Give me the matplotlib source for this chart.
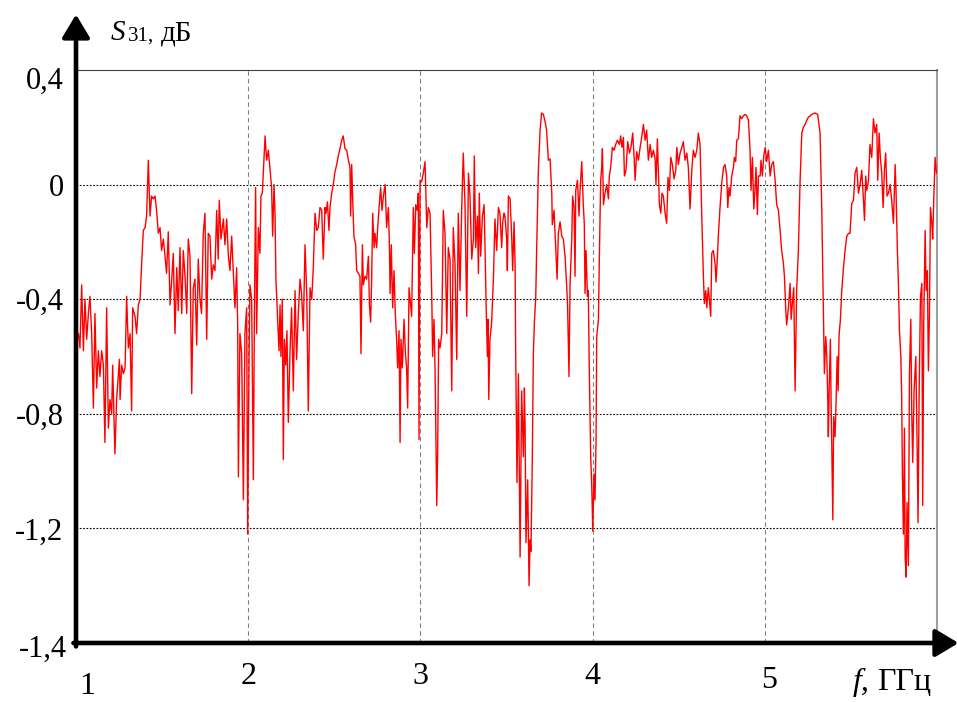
import matplotlib.pyplot as plt
from matplotlib import transforms

plt.rcParams['font.family'] = ['Liberation Serif', 'DejaVu Serif']

# frequency, GHz
freq = [
    1.000, 1.004, 1.014, 1.023, 1.033, 1.043, 1.052, 1.062, 1.072, 1.081, 1.091, 1.101, 1.110, 1.120,
    1.130, 1.139, 1.149, 1.159, 1.168, 1.178, 1.188, 1.197, 1.207, 1.213, 1.226, 1.236, 1.252, 1.256,
    1.265, 1.275, 1.285, 1.294, 1.304, 1.314, 1.323, 1.329, 1.343, 1.352, 1.362, 1.372, 1.381, 1.391,
    1.401, 1.410, 1.420, 1.430, 1.439, 1.449, 1.459, 1.468, 1.478, 1.488, 1.497, 1.507, 1.517, 1.526,
    1.536, 1.546, 1.556, 1.565, 1.575, 1.585, 1.594, 1.604, 1.614, 1.623, 1.633, 1.643, 1.652, 1.662,
    1.672, 1.681, 1.691, 1.701, 1.710, 1.720, 1.729, 1.739, 1.749, 1.759, 1.768, 1.778, 1.788, 1.797,
    1.807, 1.817, 1.826, 1.832, 1.842, 1.856, 1.865, 1.875, 1.885, 1.894, 1.904, 1.914, 1.923, 1.933,
    1.939, 1.943, 1.952, 1.962, 1.972, 1.981, 1.991, 1.997, 2.005, 2.010, 2.020, 2.030, 2.036, 2.043,
    2.049, 2.059, 2.068, 2.074, 2.082, 2.092, 2.098, 2.107, 2.117, 2.127, 2.136, 2.142, 2.150, 2.156,
    2.161, 2.171, 2.179, 2.185, 2.190, 2.198, 2.204, 2.210, 2.218, 2.225, 2.233, 2.243, 2.252, 2.262,
    2.272, 2.281, 2.291, 2.301, 2.310, 2.320, 2.330, 2.340, 2.349, 2.359, 2.369, 2.378, 2.388, 2.398,
    2.407, 2.417, 2.427, 2.436, 2.446, 2.452, 2.460, 2.469, 2.475, 2.485, 2.494, 2.504, 2.514, 2.523,
    2.533, 2.543, 2.552, 2.562, 2.572, 2.582, 2.591, 2.595, 2.601, 2.607, 2.614, 2.624, 2.630, 2.640,
    2.649, 2.655, 2.663, 2.669, 2.678, 2.688, 2.698, 2.704, 2.711, 2.717, 2.723, 2.731, 2.736, 2.746,
    2.752, 2.760, 2.769, 2.777, 2.785, 2.795, 2.804, 2.814, 2.820, 2.824, 2.831, 2.839, 2.847, 2.855,
    2.862, 2.868, 2.876, 2.882, 2.887, 2.895, 2.905, 2.913, 2.920, 2.926, 2.934, 2.940, 2.949, 2.959,
    2.965, 2.973, 2.982, 2.988, 2.992, 2.998, 3.007, 3.017, 3.027, 3.037, 3.046, 3.056, 3.066, 3.071,
    3.079, 3.085, 3.095, 3.100, 3.106, 3.114, 3.124, 3.133, 3.143, 3.153, 3.162, 3.172, 3.182, 3.191,
    3.201, 3.211, 3.220, 3.230, 3.240, 3.249, 3.259, 3.269, 3.279, 3.288, 3.298, 3.308, 3.313, 3.321,
    3.331, 3.337, 3.342, 3.350, 3.360, 3.370, 3.375, 3.381, 3.389, 3.393, 3.397, 3.404, 3.414, 3.424,
    3.433, 3.443, 3.453, 3.462, 3.472, 3.478, 3.486, 3.491, 3.501, 3.505, 3.511, 3.521, 3.530, 3.536,
    3.544, 3.550, 3.553, 3.561, 3.569, 3.579, 3.588, 3.598, 3.604, 3.608, 3.613, 3.623, 3.631, 3.637,
    3.642, 3.650, 3.656, 3.662, 3.670, 3.675, 3.685, 3.695, 3.704, 3.714, 3.724, 3.733, 3.743, 3.753,
    3.763, 3.766, 3.776, 3.786, 3.794, 3.801, 3.811, 3.821, 3.830, 3.840, 3.850, 3.855, 3.863, 3.869,
    3.879, 3.884, 3.892, 3.898, 3.902, 3.912, 3.921, 3.927, 3.937, 3.946, 3.952, 3.956, 3.962, 3.970,
    3.975, 3.981, 3.989, 3.995, 4.001, 4.008, 4.014, 4.020, 4.024, 4.034, 4.039, 4.047, 4.053, 4.057,
    4.063, 4.072, 4.082, 4.092, 4.097, 4.105, 4.115, 4.125, 4.134, 4.144, 4.156, 4.163, 4.171, 4.179,
    4.185, 4.194, 4.204, 4.214, 4.223, 4.233, 4.241, 4.247, 4.256, 4.266, 4.276, 4.285, 4.295, 4.305,
    4.314, 4.324, 4.334, 4.343, 4.353, 4.363, 4.368, 4.376, 4.382, 4.388, 4.396, 4.403, 4.411, 4.421,
    4.430, 4.438, 4.446, 4.454, 4.463, 4.473, 4.483, 4.489, 4.498, 4.508, 4.518, 4.527, 4.537, 4.547,
    4.556, 4.566, 4.576, 4.585, 4.595, 4.605, 4.614, 4.624, 4.634, 4.643, 4.649, 4.657, 4.663, 4.672,
    4.678, 4.686, 4.692, 4.701, 4.711, 4.717, 4.725, 4.730, 4.740, 4.750, 4.760, 4.769, 4.779, 4.785,
    4.792, 4.798, 4.808, 4.818, 4.823, 4.831, 4.837, 4.847, 4.856, 4.866, 4.876, 4.885, 4.895, 4.905,
    4.914, 4.920, 4.928, 4.936, 4.943, 4.949, 4.957, 4.963, 4.973, 4.978, 4.986, 4.994, 5.002, 5.011,
    5.021, 5.031, 5.040, 5.050, 5.060, 5.069, 5.079, 5.089, 5.098, 5.108, 5.114, 5.122, 5.127, 5.137,
    5.147, 5.153, 5.160, 5.168, 5.176, 5.185, 5.195, 5.205, 5.215, 5.224, 5.234, 5.244, 5.253, 5.263,
    5.273, 5.292, 5.307, 5.321, 5.331, 5.340, 5.346, 5.354, 5.360, 5.366, 5.369, 5.375, 5.381, 5.385,
    5.389, 5.395, 5.400, 5.408, 5.414, 5.420, 5.426, 5.431, 5.439, 5.447, 5.457, 5.466, 5.476, 5.486,
    5.495, 5.505, 5.515, 5.524, 5.534, 5.544, 5.553, 5.563, 5.573, 5.579, 5.586, 5.592, 5.602, 5.611,
    5.621, 5.631, 5.640, 5.650, 5.656, 5.664, 5.671, 5.679, 5.687, 5.695, 5.702, 5.710, 5.718, 5.728,
    5.737, 5.747, 5.757, 5.762, 5.770, 5.776, 5.782, 5.790, 5.795, 5.799, 5.805, 5.811, 5.815, 5.821,
    5.826, 5.834, 5.840, 5.848, 5.853, 5.859, 5.867, 5.877, 5.884, 5.890, 5.896, 5.904, 5.912, 5.917,
    5.923, 5.931, 5.937, 5.944, 5.950, 5.956, 5.962, 5.970, 5.975, 5.981, 5.989, 5.997,
]

# S31, dB
s31 = [
    -0.66, -0.55, -0.52, -0.57, -0.35, -0.58, -0.40, -0.54, -0.45, -0.39, -0.52, -0.78, -0.45, -0.71,
    -0.58, -0.67, -0.58, -0.63, -0.90, -0.43, -0.85, -0.75, -0.80, -0.63, -0.94, -0.75, -0.61, -0.75,
    -0.63, -0.66, -0.64, -0.39, -0.57, -0.52, -0.79, -0.43, -0.46, -0.52, -0.42, -0.40, -0.28, -0.16,
    -0.15, -0.11, 0.085, -0.11, -0.04, -0.05, -0.04, -0.09, -0.17, -0.15, -0.23, -0.19, -0.25, -0.31,
    -0.165, -0.42, -0.33, -0.24, -0.52, -0.29, -0.44, -0.22, -0.45, -0.23, -0.32, -0.45, -0.19, -0.25,
    -0.73, -0.36, -0.33, -0.56, -0.26, -0.40, -0.45, -0.17, -0.10, -0.54, -0.17, -0.18, -0.33, -0.28,
    -0.30, -0.09, -0.26, -0.055, -0.19, -0.12, -0.21, -0.12, -0.25, -0.30, -0.18, -0.31, -0.43, -0.29,
    -0.50, -1.02, -0.52, -0.59, -1.10, -0.52, -0.43, -1.22, -0.60, -0.35, -0.40, -1.03, -0.45, -0.01,
    -0.52, -0.15, -0.24, -0.04, -0.03, 0.10, 0.17, 0.085, 0.12, 0.05, -0.01, -0.18, 0.00, -0.11,
    -0.33, -0.47, -0.58, -0.42, -0.60, -0.40, -0.96, -0.54, -0.63, -0.51, -0.83, -0.58, -0.43, -0.72,
    -0.37, -0.61, -0.45, -0.33, -0.38, -0.51, -0.21, -0.38, -0.79, -0.36, -0.40, -0.29, -0.10, -0.16,
    -0.15, -0.08, -0.09, -0.26, -0.08, -0.10, -0.06, -0.16, -0.08, -0.03, 0.00, 0.045, 0.07, 0.10,
    0.125, 0.155, 0.17, 0.125, 0.12, 0.085, 0.06, -0.11, 0.07, -0.055, -0.18, -0.21, -0.30, -0.31,
    -0.32, -0.59, -0.21, -0.35, -0.32, -0.33, -0.25, -0.42, -0.48, -0.33, -0.10, -0.22, -0.17, -0.22,
    -0.15, -0.08, -0.01, -0.09, -0.04, 0.00, -0.15, -0.08, -0.21, -0.38, -0.21, -0.43, -0.30, -0.46,
    -0.54, -0.64, -0.51, -0.90, -0.54, -0.64, -0.47, -0.59, -0.64, -0.78, -0.36, -0.40, -0.46, -0.08,
    -0.24, -0.07, -0.09, -0.03, -0.89, 0.015, 0.01, 0.04, 0.08, -0.15, -0.08, -0.10, -0.39, -0.60,
    -0.47, -0.64, -1.12, -0.95, -0.54, -0.57, -0.52, -0.09, -0.17, -0.52, -0.22, -0.26, -0.72, -0.15,
    -0.28, -0.61, -0.10, -0.37, -0.08, 0.11, -0.07, -0.46, 0.04, -0.04, -0.26, -0.19, 0.10, -0.22,
    -0.11, -0.31, -0.03, -0.25, -0.11, -0.07, -0.21, -0.40, -0.60, -0.47, -0.75, -0.54, -0.48, -0.33,
    -0.12, -0.23, -0.08, -0.10, -0.22, -0.13, -0.10, -0.11, -0.19, -0.30, -0.04, -0.05, -0.18, -0.30,
    -0.13, -0.28, -0.57, -1.04, -0.66, -1.30, -0.72, -0.95, -0.71, -0.85, -1.25, -1.03, -1.40, -1.24,
    -1.28, -0.95, -0.59, -0.48, -0.39, -0.23, 0.05, 0.19, 0.25, 0.245, 0.22, 0.19, 0.085, 0.09,
    -0.03, -0.14, -0.09, -0.22, -0.33, -0.17, -0.13, -0.18, -0.19, -0.25, -0.36, -0.43, -0.67, -0.35,
    -0.19, -0.04, -0.08, -0.32, -0.02, 0.015, -0.11, -0.02, 0.08, -0.07, -0.14, -0.38, -0.23, -0.39,
    -0.37, -0.66, -0.95, -1.05, -1.21, -1.01, -1.10, -0.89, -0.53, -0.47, -0.26, 0.015, 0.06, 0.125,
    -0.07, -0.03, 0.00, -0.05, 0.03, 0.06, 0.13, 0.12, 0.14, 0.155, 0.14, 0.17, 0.13, 0.165,
    0.03, 0.05, 0.15, 0.11, 0.13, 0.18, 0.095, 0.015, 0.115, 0.085, 0.13, 0.165, 0.21, 0.155,
    0.19, 0.085, 0.14, 0.095, 0.12, 0.09, 0.00, 0.16, 0.04, -0.07, -0.10, -0.03, -0.04, -0.10,
    -0.135, 0.025, -0.02, 0.095, 0.07, 0.02, 0.05, 0.13, 0.07, 0.11, 0.13, 0.15, 0.085, 0.11,
    0.06, -0.085, 0.05, 0.12, 0.095, 0.12, 0.18, 0.14, -0.11, -0.31, -0.415, -0.37, -0.43, -0.36,
    -0.40, -0.46, -0.24, -0.23, -0.275, -0.34, -0.25, -0.18, -0.08, 0.005, 0.06, 0.07, 0.03, -0.08,
    -0.01, -0.04, 0.03, 0.06, 0.095, 0.08, 0.155, 0.16, 0.24, 0.23, 0.24, 0.245, 0.24, 0.225,
    0.125, -0.02, 0.095, -0.085, -0.02, 0.06, -0.105, 0.03, 0.03, 0.085, 0.03, 0.10, 0.13, 0.08,
    0.12, 0.03, 0.07, 0.08, 0.015, -0.07, -0.09, -0.16, -0.23, -0.275, -0.32, -0.44, -0.49, -0.43,
    -0.345, -0.47, -0.415, -0.36, -0.72, -0.37, -0.23, 0.015, 0.18, 0.20, 0.21, 0.225, 0.235, 0.24,
    0.245, 0.25, 0.245, 0.18, -0.09, -0.44, -0.66, -0.53, -0.60, -0.76, -0.88, -0.68, -0.54, -0.77,
    -0.91, -1.17, -0.81, -0.88, -0.76, -0.60, -0.72, -0.53, -0.47, -0.37, -0.29, -0.23, -0.18, -0.17,
    -0.17, -0.066, -0.055, 0.04, 0.06, -0.03, 0.00, 0.05, -0.055, -0.125, 0.03, -0.02, 0.015, 0.14,
    0.095, 0.23, 0.18, 0.21, 0.015, 0.18, 0.095, 0.04, -0.08, 0.055, 0.11, -0.04, -0.03, 0.00,
    -0.055, -0.135, 0.07, -0.02, -0.23, -0.345, -0.51, -0.60, -0.74, -1.01, -1.22, -0.85, -1.30, -1.37,
    -1.11, -1.33, -0.66, -0.47, -0.78, -0.97, -0.72, -0.60, -0.89, -1.18, -0.74, -0.39, -0.345, -1.12,
    -0.485, -0.16, -0.37, -0.30, -0.65, -0.46, -0.08, -0.135, -0.19, -0.055, 0.095, 0.04,
]

x_ticks = [1, 2, 3, 4, 5]
x_labels = ['1', '2', '3', '4', '5']
y_ticks = [0.4, 0.0, -0.4, -0.8, -1.2, -1.6]
y_labels = ['0,4', '0', '-0,4', '-0,8', '-1,2', '-1,4']

W, H = 957, 702
fig = plt.figure(figsize=(W / 100, H / 100), dpi=100)
ax = fig.add_axes([76 / W, 59 / H, 861 / W, 573 / H])

ax.plot(freq, s31, color='#ff0000', lw=1.0, zorder=3)
ax.set_xlim(1, 6)
ax.set_ylim(-1.6, 0.4)

# grid: dotted black horizontals, dashed grey verticals
for y in y_ticks[1:-1]:
    ax.axhline(y, color='black', lw=0.8, ls=(0, (1.5, 1.5)), zorder=1)
for x in x_ticks[1:]:
    ax.axvline(x, color='#808080', lw=0.8, ls=(0, (4, 3)), zorder=1)

ax.spines['left'].set_visible(False)
ax.spines['bottom'].set_visible(False)
ax.spines['top'].set_color('#404040')
ax.spines['top'].set_linewidth(0.8)
ax.spines['right'].set_color('#a0a0a0')
ax.spines['right'].set_linewidth(1.5)

ax.set_xticks(x_ticks)
ax.set_xticklabels(x_labels, fontsize=23)
ax.set_yticks(y_ticks)
ax.set_yticklabels(y_labels, fontsize=22)
ax.tick_params(axis='x', length=0, pad=14)
ax.tick_params(axis='y', length=0, pad=9)

# small nudges of individual labels, in pixels
def nudge(lab, dx, dy):
    lab.set_transform(lab.get_transform() + transforms.ScaledTranslation(dx / 100, -dy / 100, fig.dpi_scale_trans))

xl = ax.get_xticklabels()
nudge(xl[0], 11, 10)
nudge(xl[4], 4, 4)
yl = ax.get_yticklabels()
nudge(yl[0], 0, 8)
nudge(yl[5], 4, 3)

# thick axes with arrow heads
arrow = dict(arrowstyle='-|>,head_length=0.7,head_width=0.42', lw=3.3, color='black',
             shrinkA=0, shrinkB=0, mutation_scale=20)
ax.annotate('', xy=(0, 1.097), xytext=(0, -0.006), xycoords='axes fraction',
            arrowprops=arrow, annotation_clip=False)
ax.annotate('', xy=(1.025, 0), xytext=(-0.003, 0), xycoords='axes fraction',
            arrowprops=arrow, annotation_clip=False)

# axis titles
fig.text(111 / W, 1 - 40 / H, 'S', fontsize=21, style='italic', va='baseline')
fig.text(128 / W, 1 - 41 / H, '31,', fontsize=15, va='baseline')
fig.text(161 / W, 1 - 40 / H, 'дБ', fontsize=21, va='baseline')
fig.text(853 / W, 1 - 690 / H, 'f,', fontsize=23, style='italic', va='baseline')
fig.text(877 / W, 1 - 690 / H, 'ГГц', fontsize=23, va='baseline')

fig.savefig('out.png', dpi=100)
